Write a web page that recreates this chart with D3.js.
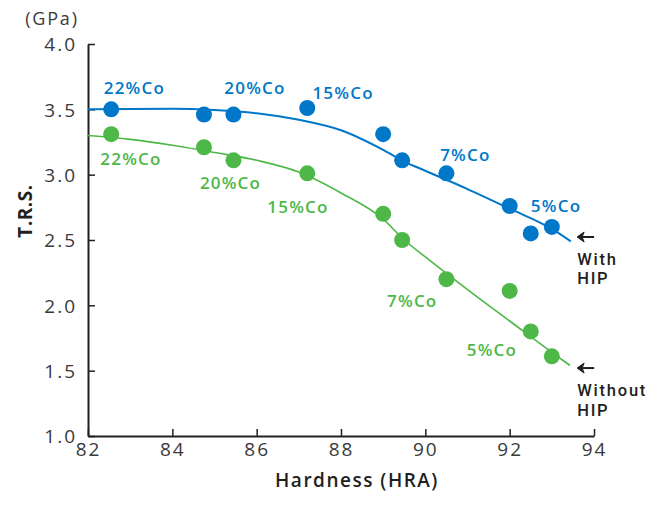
<!DOCTYPE html>
<html lang="en">
<head>
    <meta charset="UTF-8">
    <title>T.R.S. vs Hardness</title>
    <script src="https://cdn.jsdelivr.net/npm/d3@7"></script>
    <style>
        body { margin: 0; background: #fff; }
        text { font-family: "Open Sans", sans-serif; }
    </style>
</head>
<body>
    <script>
        // measured points (hardness HRA, T.R.S. GPa)
        const hipHardness = [82.55, 84.75, 85.45, 87.2, 89.0, 89.45, 90.5, 92.0, 92.5, 93.0];
        const hipTrs      = [3.50, 3.46, 3.46, 3.51, 3.31, 3.11, 3.01, 2.76, 2.55, 2.60];
        const noHipHardness = [82.55, 84.75, 85.45, 87.2, 89.0, 89.45, 90.5, 92.0, 92.5, 93.0];
        const noHipTrs      = [3.31, 3.21, 3.11, 3.01, 2.70, 2.50, 2.20, 2.11, 1.80, 1.61];

        // fitted trend lines
        const hipFitX = [82, 84, 85, 86, 87, 88, 89, 89.5, 90, 91, 92, 93, 93.45];
        const hipFitY = [3.50, 3.505, 3.495, 3.47, 3.42, 3.34, 3.19, 3.10, 3.03, 2.89, 2.74, 2.585, 2.49];
        const noHipFitX = [82, 83, 84, 85, 86, 87, 88, 89, 89.5, 90, 91, 92, 93, 93.43];
        const noHipFitY = [3.30, 3.27, 3.225, 3.17, 3.11, 3.02, 2.86, 2.66, 2.50, 2.37, 2.12, 1.88, 1.64, 1.54];

        // composition labels (text centre, baseline) in data units
        const hipLabels = ["22%Co", "20%Co", "15%Co", "7%Co", "5%Co"];
        const hipLabelX = [83.10, 85.96, 88.05, 90.95, 93.10];
        const hipLabelY = [3.615, 3.615, 3.58, 3.107, 2.717];
        const noHipLabels = ["22%Co", "20%Co", "15%Co", "7%Co", "5%Co"];
        const noHipLabelX = [83.02, 85.38, 86.98, 89.69, 91.58];
        const noHipLabelY = [3.074, 2.888, 2.707, 1.99, 1.615];

        const xTicks = [82, 84, 86, 88, 90, 92, 94];
        const yTicks = [1.0, 1.5, 2.0, 2.5, 3.0, 3.5, 4.0];

        const width = 664, height = 506;
        const blue = "#0077c8", green = "#4db848", ink = "#231f20";

        const svg = d3.select("body").append("svg")
            .attr("width", width)
            .attr("height", height);

        const x = d3.scaleLinear().domain([82, 94]).range([88, 594]);
        const y = d3.scaleLinear().domain([1, 4]).range([436, 44]);

        // axes
        const xAxis = svg.append("g")
            .attr("transform", `translate(0,${y(1)})`)
            .call(d3.axisBottom(x).tickValues(xTicks).tickSizeInner(-7).tickSizeOuter(0).tickPadding(7)
                .tickFormat(d3.format("d")));
        const yAxis = svg.append("g")
            .attr("transform", `translate(${x(82)},0)`)
            .call(d3.axisLeft(y).tickValues(yTicks).tickSizeInner(-7).tickSizeOuter(0).tickPadding(11)
                .tickFormat(d3.format(".1f")));

        [xAxis, yAxis].forEach(ax => {
            ax.select(".domain").attr("stroke", ink).attr("stroke-width", 2);
            ax.selectAll(".tick line").attr("stroke", ink).attr("stroke-width", 1.5);
            ax.selectAll(".tick text")
                .attr("fill", "#3a3a3a")
                .style("font-size", "19px")
                .style("letter-spacing", "2px");
        });
        xAxis.selectAll(".tick text").attr("dy", "0.71em");
        yAxis.selectAll(".tick text").attr("dy", "0.36em");

        // axis titles
        svg.append("text")
            .attr("x", 52).attr("y", 25)
            .attr("text-anchor", "middle")
            .attr("fill", "#3a3a3a")
            .style("font-size", "18px")
            .style("letter-spacing", "1.8px")
            .text("(GPa)");

        svg.append("text")
            .attr("transform", "translate(32,211) rotate(-90)")
            .attr("text-anchor", "middle")
            .attr("fill", ink)
            .style("font-size", "19px")
            .style("font-weight", 700)
            .style("letter-spacing", "0.5px")
            .text("T.R.S.");

        svg.append("text")
            .attr("x", 357).attr("y", 487)
            .attr("text-anchor", "middle")
            .attr("fill", ink)
            .style("font-size", "19px")
            .style("font-weight", 600)
            .style("letter-spacing", "1.5px")
            .text("Hardness (HRA)");

        const line = d3.line()
            .x(d => x(d[0]))
            .y(d => y(d[1]))
            .curve(d3.curveMonotoneX);

        function drawSeries(fx, fy, px, py, color, lw) {
            svg.append("path")
                .datum(d3.zip(fx, fy))
                .attr("fill", "none")
                .attr("stroke", color)
                .attr("stroke-width", lw)
                .attr("d", line);
            svg.append("g").selectAll("circle")
                .data(d3.zip(px, py))
                .join("circle")
                .attr("cx", d => x(d[0]))
                .attr("cy", d => y(d[1]))
                .attr("r", 8)
                .attr("fill", color);
        }

        drawSeries(noHipFitX, noHipFitY, noHipHardness, noHipTrs, green, 1.6);
        drawSeries(hipFitX, hipFitY, hipHardness, hipTrs, blue, 2);

        function drawLabels(txt, lx, ly, color) {
            svg.append("g").selectAll("text")
                .data(d3.zip(txt, lx, ly))
                .join("text")
                .attr("x", d => x(d[1]))
                .attr("y", d => y(d[2]))
                .attr("text-anchor", "middle")
                .attr("fill", color)
                .style("font-size", "17px")
                .style("font-weight", 600)
                .style("letter-spacing", "1.2px")
                .text(d => d[0]);
        }
        drawLabels(hipLabels, hipLabelX, hipLabelY, blue);
        drawLabels(noHipLabels, noHipLabelX, noHipLabelY, green);

        // end-of-line notes with arrows
        function note(tipX, tipY, lines) {
            const tx = x(tipX), ty = y(tipY);
            svg.append("path")
                .attr("d", `M${tx + 1},${ty} L${tx + 17},${ty}`)
                .attr("stroke", ink).attr("stroke-width", 2);
            svg.append("path")
                .attr("d", `M${tx},${ty} L${tx + 7},${ty - 5} L${tx + 5},${ty} L${tx + 7},${ty + 5} Z`)
                .attr("fill", ink).attr("stroke", ink).attr("stroke-width", 1);
            lines.forEach((s, i) => {
                svg.append("text")
                    .attr("x", tx).attr("y", ty + 28 + i * 19.5)
                    .attr("fill", ink)
                    .style("font-family", "Roboto, sans-serif")
                    .style("font-size", "16.5px")
                    .style("font-weight", 500)
                    .style("letter-spacing", "1.8px")
                    .text(s);
            });
        }
        note(93.6, 2.523, ["With", "HIP"]);
        note(93.6, 1.52, ["Without", "HIP"]);
    </script>
</body>
</html>
